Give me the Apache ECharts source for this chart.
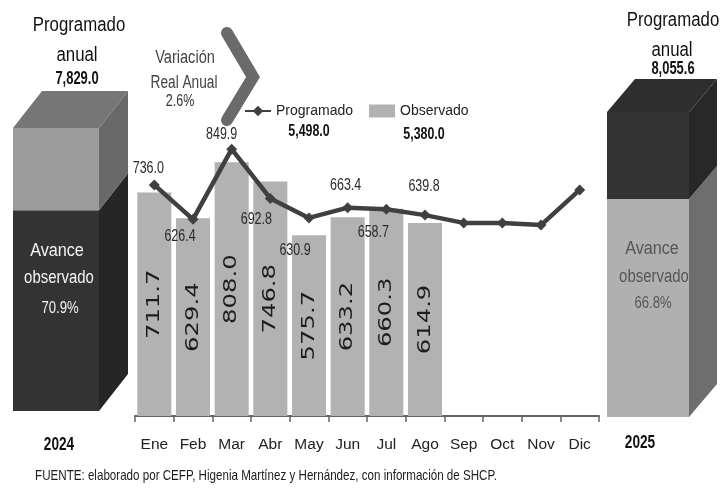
<!DOCTYPE html>
<html><head><meta charset="utf-8">
<style>html,body{margin:0;padding:0;background:#fff}#c{width:726px;height:491px;filter:blur(0.45px)}</style>
<script src="https://cdn.jsdelivr.net/npm/echarts@6/dist/echarts.min.js"></script>
</head><body><div id="c"></div>
<script>
const months = ['Ene','Feb','Mar','Abr','May','Jun','Jul','Ago','Sep','Oct','Nov','Dic'];
const observado = [711.7,629.4,808.0,746.8,575.7,633.2,660.3,614.9];
const programado = [736.0,626.4,849.9,692.8,630.9,663.4,658.7,639.8,615,615,608,720];
const labelledMonths = 8;
const annual2024 = [5551,7829.0];
const annual2025 = [5759,8055.6];

const sans = '"Liberation Sans",Arial,sans-serif';
const labelOffsets = [[-6,-16],[-13,17],[-10,-15],[-14,21],[-14,33],[-2,-22],[-13,23],[-1,-29]];

function cuboid(dx, dy, colors){
  return function(params, api){
    const i = params.dataIndex;
    const a = api.coord([0, api.value(1)]);
    const b = api.coord([0, api.value(2)]);
    const w = api.size([1,0])[0];
    const x0 = a[0]-w/2, x1 = a[0]+w/2;
    const c = colors[i];
    const kids = [
      {type:'polygon',shape:{points:[[x0,a[1]],[x1,a[1]],[x1,b[1]],[x0,b[1]]]},style:{fill:c[0]}},
      {type:'polygon',shape:{points:[[x1,a[1]],[x1+dx,a[1]-dy],[x1+dx,b[1]-dy],[x1,b[1]]]},style:{fill:c[1]}}
    ];
    if(c[2]) kids.push({type:'polygon',shape:{points:[[x0,b[1]],[x1,b[1]],[x1+dx,b[1]-dy],[x0+dx,b[1]-dy]]},style:{fill:c[2]}});
    return {type:'group',children:kids};
  };
}
function t(text,x,y,size,sx,color,weight){
  return {type:'text',x,y,scaleX:sx,z:50,style:{text,fill:color||'#1c1c1c',font:(weight||'normal')+' '+size+'px '+sans,textAlign:'center',textVerticalAlign:'middle'}};
}
const chart = echarts.init(document.getElementById('c'),null,{renderer:'canvas'});
chart.setOption({
  animation:false,
  backgroundColor:'#fff',
  legend:{
    left:239,top:104,padding:[0,0,0,5],itemGap:16,itemWidth:26,itemHeight:13,
    data:[{name:'Programado'},{name:'Observado',icon:'rect'}],
    textStyle:{fontFamily:sans,fontSize:14,color:'#222'}
  },
  grid:[
    {left:135,top:102,width:464,height:314},
    {left:13,top:128,width:86,height:283},
    {left:607,top:112,width:82,height:305}
  ],
  xAxis:[
    {gridIndex:0,type:'category',data:months,boundaryGap:true,
     axisLine:{lineStyle:{color:'#666',width:2}},
     axisTick:{show:true,length:6,alignWithLabel:false,lineStyle:{color:'#666',width:1.5}},
     axisLabel:{interval:0,margin:21,fontFamily:sans,fontSize:15.5,color:'#222'}},
    {gridIndex:1,type:'category',data:['2024'],show:false},
    {gridIndex:2,type:'category',data:['2025'],show:false}
  ],
  yAxis:[
    {gridIndex:0,type:'value',min:0,max:1000,show:false,splitLine:{show:false}},
    {gridIndex:1,type:'value',min:0,max:annual2024[1],show:false,splitLine:{show:false}},
    {gridIndex:2,type:'value',min:0,max:annual2025[1],show:false,splitLine:{show:false}}
  ],
  series:[
    {name:'Observado',type:'bar',data:observado,barWidth:'88%',itemStyle:{color:'#b2b2b2'}},
    {name:'Programado',type:'line',data:programado,
     symbol:'diamond',symbolSize:11,z:5,
     lineStyle:{color:'#404040',width:4.5},itemStyle:{color:'#404040'}},
    {type:'custom',z:8,silent:true,encode:{x:0,y:1},
     data:observado.map((v,i)=>[i,v]),
     renderItem:(p,api)=>{
       const c=api.coord([api.value(0),api.value(1)/2]);
       return {type:'text',x:c[0],y:c[1],rotation:Math.PI/2,scaleX:1.35,
         style:{text:api.value(1).toFixed(1),font:'18px "DejaVu Sans",sans-serif',fill:'#1c1c1c',textAlign:'center',textVerticalAlign:'middle'}};
     }},
    {type:'custom',z:8,silent:true,encode:{x:0,y:1},
     data:programado.slice(0,labelledMonths).map((v,i)=>[i,v]),
     renderItem:(p,api)=>{
       const c=api.coord([api.value(0),api.value(1)]);
       const o=labelOffsets[p.dataIndex];
       return {type:'text',x:c[0]+o[0],y:c[1]+o[1],scaleX:.78,
         style:{text:api.value(1).toFixed(1),font:'16px '+sans,fill:'#2a2a2a',textAlign:'center',textVerticalAlign:'middle'}};
     }},
    {type:'custom',xAxisIndex:1,yAxisIndex:1,encode:{x:0,y:[1,2]},z:2,silent:true,
     data:[[0,0,annual2024[0]],[0,annual2024[0],annual2024[1]]],
     renderItem:cuboid(29,37,[['#333333','#262626',null],['#9c9c9c','#696969','#767676']])},
    {type:'custom',xAxisIndex:2,yAxisIndex:2,encode:{x:0,y:[1,2]},z:2,silent:true,
     data:[[0,0,annual2025[0]],[0,annual2025[0],annual2025[1]]],
     renderItem:cuboid(28,33,[['#b0b0b0','#6e6e6e',null],['#333333','#282828','#2e2e2e']])}
  ],
  graphic:[
    {type:'polyline',z:40,shape:{points:[[227,33],[253,77],[227,120]]},
     style:{stroke:'#6a6a6a',lineWidth:12,lineCap:'round',lineJoin:'miter',fill:null}},
    t('Programado',79,25,20,.84,'#111'), t('anual',77,55,20,.84,'#111'), t('7,829.0',77,79,18,.72,'#111','bold'),
    t('Programado',673,20,20,.84,'#111'), t('anual',672,50,20,.84,'#111'), t('8,055.6',673,69,18,.72,'#111','bold'),
    t('2024',59,445,19,.72,'#111','bold'), t('2025',640,443,19,.72,'#111','bold'),
    t('Avance',57,251,18,.9,'#f4f4f4'), t('observado',59,278,18,.83,'#f4f4f4'), t('70.9%',60,309,16,.82,'#f4f4f4'),
    t('Avance',652,249,18,.9,'#555'), t('observado',654,277,18,.83,'#555'), t('66.8%',653,304,16,.82,'#555'),
    t('Variación',185,58,18,.81,'#444'), t('Real Anual',184,83,18,.76,'#444'), t('2.6%',180,102,16,.78,'#333'),
    t('5,498.0',309,131,17,.73,'#111','bold'), t('5,380.0',424,134,17,.73,'#111','bold'),
    t('FUENTE: elaborado por CEFP, Higenia Martínez y Hernández, con información de SHCP.',266,476,14.5,.8,'#1c1c1c')
  ]
});
</script></body></html>
